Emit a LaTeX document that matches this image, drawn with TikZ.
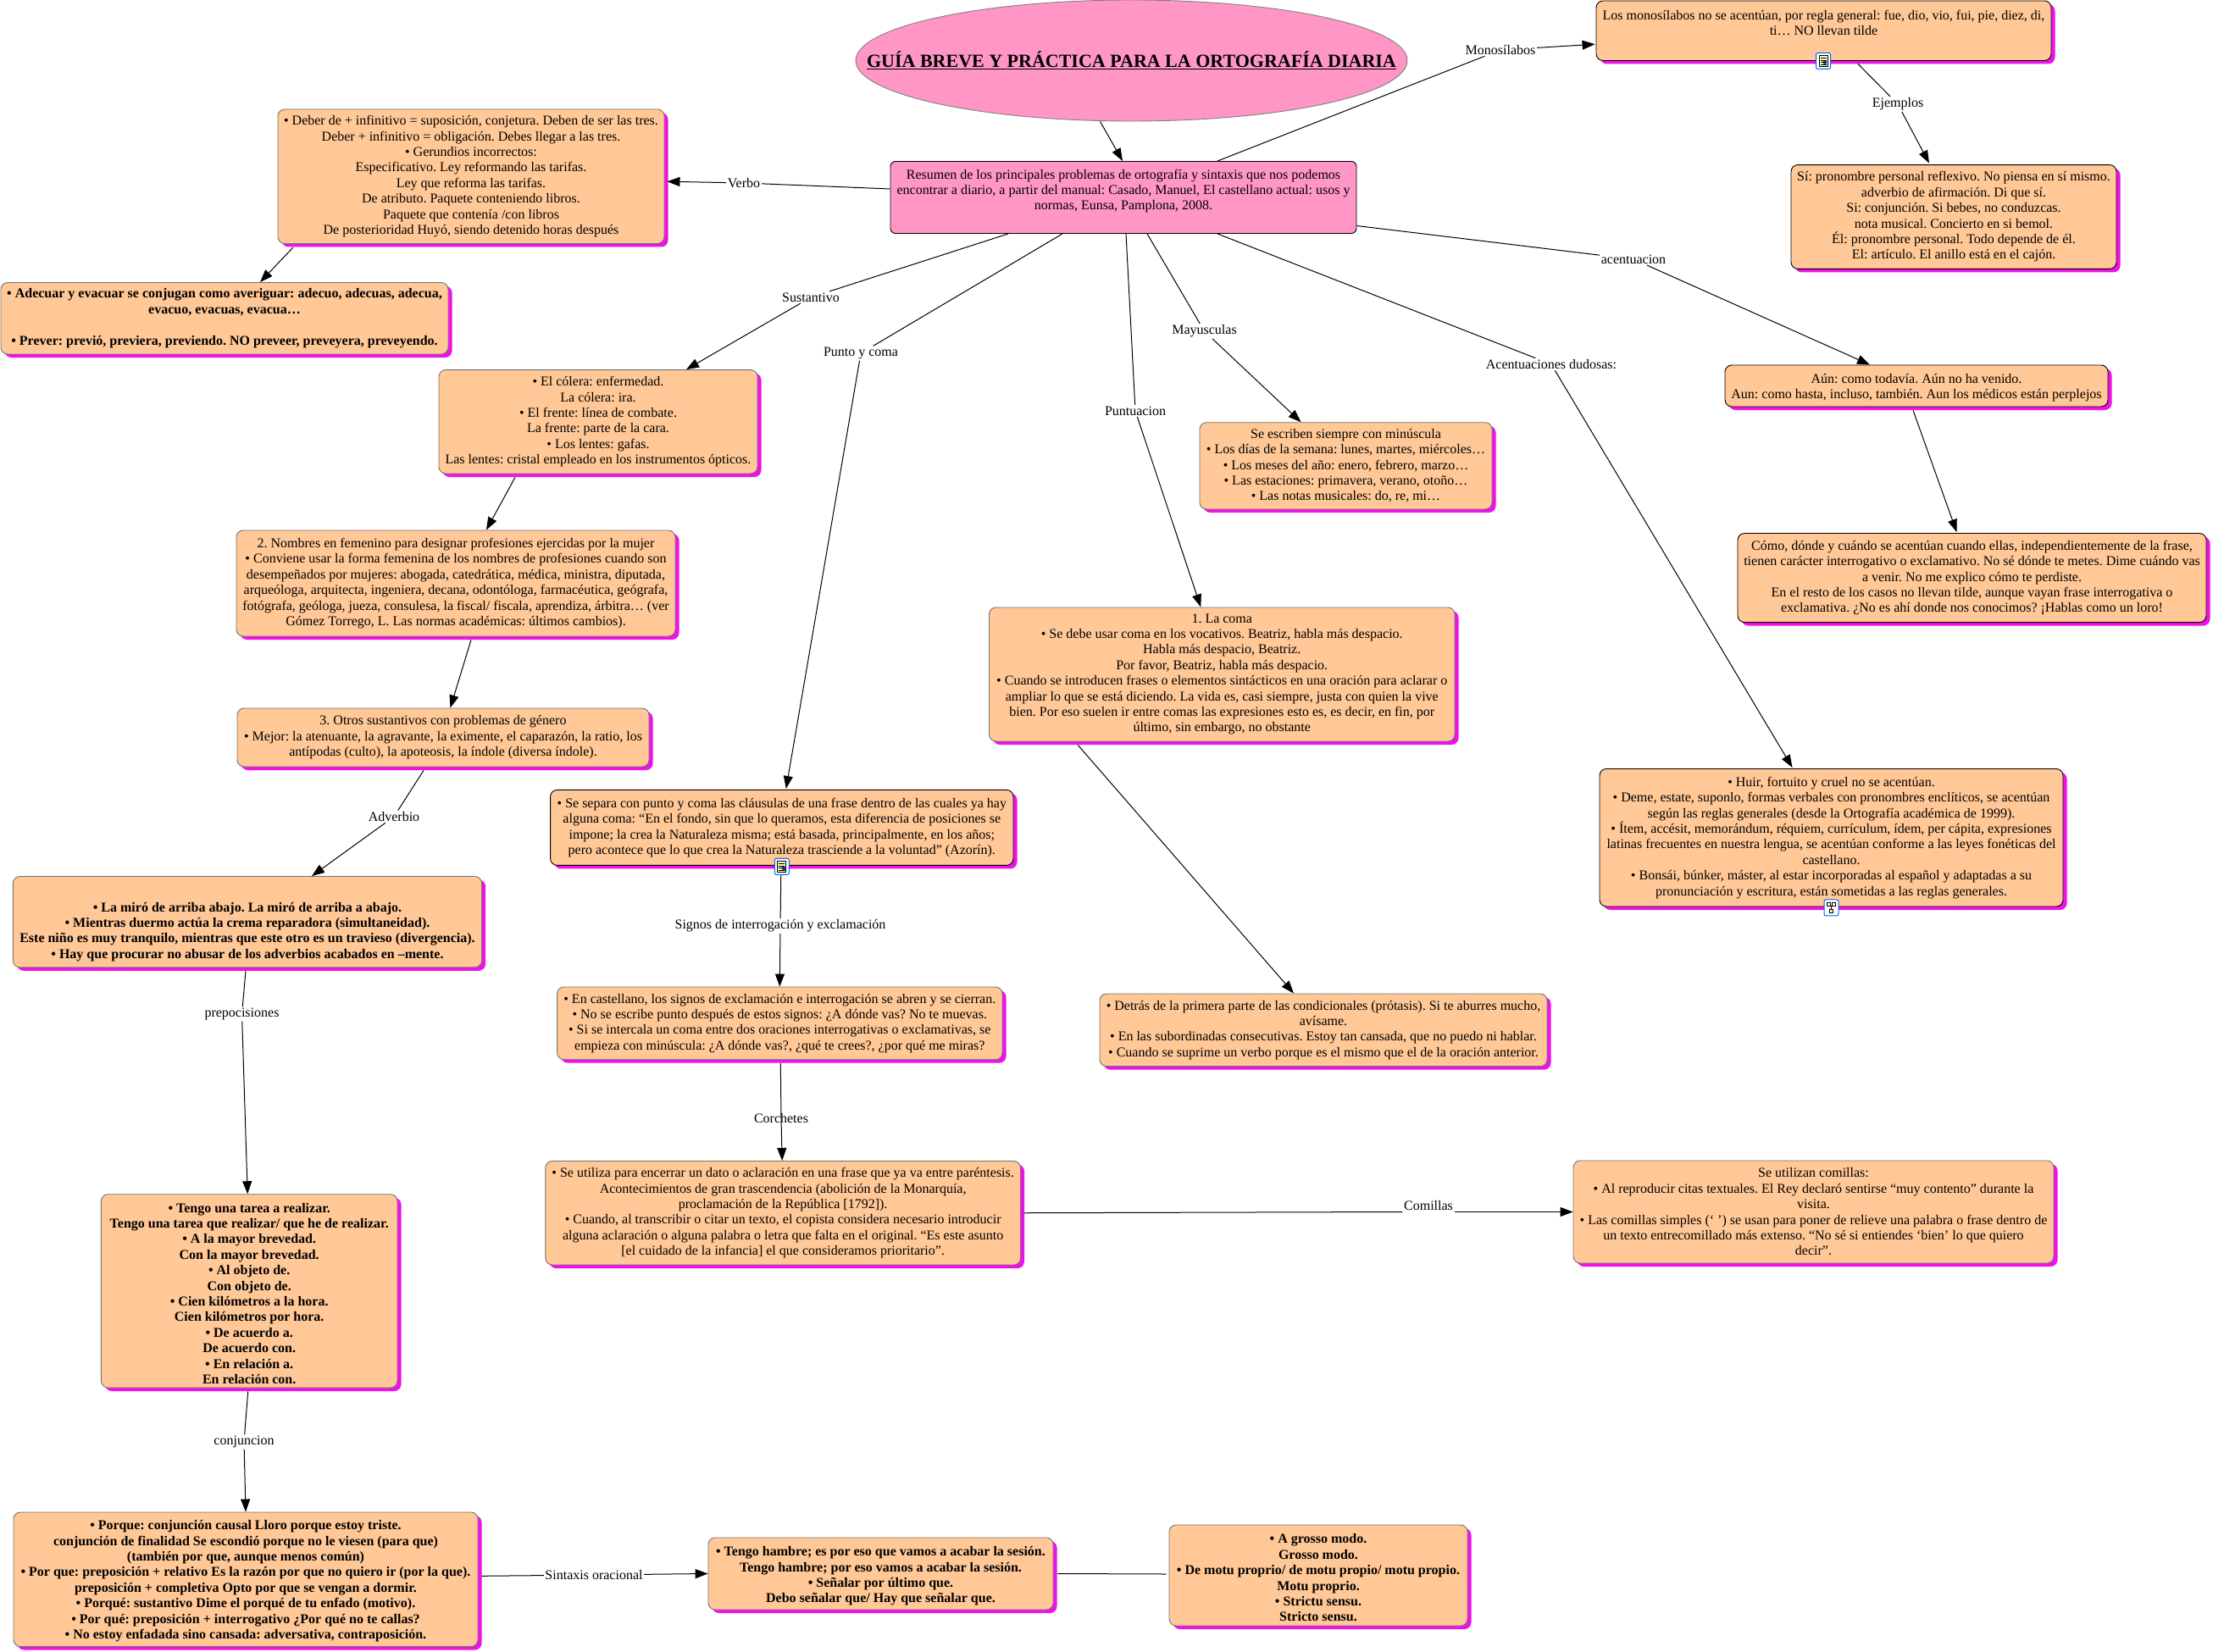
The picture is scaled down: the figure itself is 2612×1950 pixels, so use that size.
\documentclass[tikz,border=0pt]{standalone}
\usepackage{fontspec}
\setmainfont{Liberation Serif}
\usetikzlibrary{arrows.meta,shadows,shapes.geometric}
\definecolor{boxfill}{RGB}{255,200,150}
\definecolor{pinkfill}{RGB}{255,150,197}
\definecolor{shadowm}{RGB}{240,16,232}
\frenchspacing
\tikzset{
  x=1pt,y=-1pt,
  concept/.style={rectangle,rounded corners=8pt,fill=boxfill,draw=gray!90!black,line width=.9pt,inner sep=0pt,align=center,
    font=\fontsize{16}{18.4}\selectfont,text=black,
    general shadow={shadow xshift=4.5pt,shadow yshift=-4pt,fill=shadowm}},
  dark/.style={draw=black},
  bolder/.style={font=\fontsize{16}{18.4}\selectfont\bfseries},
  plain/.style={rectangle,rounded corners=6pt,fill=pinkfill,draw=black,line width=.9pt,inner sep=0pt,align=center,font=\fontsize{16}{18.4}\selectfont},
  titleshape/.style={ellipse,fill=pinkfill,draw=gray,line width=.9pt,inner xsep=-90pt,inner ysep=0pt,font=\fontsize{22}{26}\selectfont\bfseries},
  linklabel/.style={fill=white,inner sep=1.5pt,font=\fontsize{16}{18}\selectfont},
  conn/.style={draw=black,line width=1pt},
  arrowed/.style={conn,-{Triangle[length=15pt,width=11pt]}},
  iconbox/.style={rectangle,rounded corners=2pt,fill=white,draw=blue!60!cyan,line width=1pt,minimum width=17pt,minimum height=19pt,inner sep=0pt}
}
\newcommand{\conceptbox}[7][]{%
  \pgfmathsetmacro{\cbw}{#5-#3}\pgfmathsetmacro{\cbh}{#6-#4}%
  \node[concept,#1,minimum width=\cbw pt,minimum height=\cbh pt] (#2) at ({(#3+#5)/2},{(#4+#6)/2}) {#7};}
\newcommand{\docicon}[1]{%
  \fill[yellow!30] ([shift={(-5pt,-6pt)}]#1.center) rectangle ([shift={(5pt,7pt)}]#1.center);
  \draw[black,line width=.7pt] ([shift={(-5pt,-6pt)}]#1.center) rectangle ([shift={(5pt,7pt)}]#1.center);
  \fill[blue!50!gray] ([shift={(0pt,-5pt)}]#1.center) rectangle ([shift={(4pt,0pt)}]#1.center);
  \foreach \dy in {-4,-1.5,1,3.5}{\draw[black,line width=.6pt] ([shift={(-3.5pt,\dy pt)}]#1.center) -- ([shift={(3.5pt,\dy pt)}]#1.center);}
}
\begin{document}
\begin{tikzpicture}
\useasboundingbox (0,0) rectangle (2612,1950);

% title and hub
\node[titleshape,minimum width=651pt,minimum height=143pt] (tit) at (1335.5,71.5) {\underline{GUÍA BREVE Y PRÁCTICA PARA LA ORTOGRAFÍA DIARIA}};
\node[plain,minimum width=550pt,minimum height=85pt] (res) at (1326,233) {Resumen de los principales problemas de ortografía y sintaxis que nos podemos\\encontrar a diario, a partir del manual: Casado, Manuel, El castellano actual: usos y\\normas, Eunsa, Pamplona, 2008.\\\mbox{}};

% right column
\conceptbox[dark]{mono}{1884}{1}{2421}{71.5}{Los monosílabos no se acentúan, por regla general: fue, dio, vio, fui, pie, diez, di,\\ti… NO llevan tilde\\\mbox{}}
\conceptbox[dark]{si}{2114}{194.6}{2498}{317.4}{Sí: pronombre personal reflexivo. No piensa en sí mismo.\\adverbio de afirmación. Di que sí.\\Si: conjunción. Si bebes, no conduzcas.\\nota musical. Concierto en si bemol.\\Él: pronombre personal. Todo depende de él.\\El: artículo. El anillo está en el cajón.}
\conceptbox[dark]{aun}{2036}{431}{2488}{480}{\rule{0pt}{15pt}Aún: como todavía. Aún no ha venido.\\Aun: como hasta, incluso, también. Aun los médicos están perplejos}
\conceptbox[dark]{como}{2051}{629.5}{2604}{734.6}{Cómo, dónde y cuándo se acentúan cuando ellas, independientemente de la frase,\\tienen carácter interrogativo o exclamativo. No sé dónde te metes. Dime cuándo vas\\a venir. No me explico cómo te perdiste.\\En el resto de los casos no llevan tilde, aunque vayan frase interrogativa o\\exclamativa. ¿No es ahí donde nos conocimos? ¡Hablas como un loro!}
\conceptbox{esc}{1416}{498.7}{1761}{601}{Se escriben siempre con minúscula\\• Los días de la semana: lunes, martes, miércoles…\\• Los meses del año: enero, febrero, marzo…\\• Las estaciones: primavera, verano, otoño…\\• Las notas musicales: do, re, mi…}
\conceptbox{coma}{1167.5}{717}{1717}{875}{1. La coma\\• Se debe usar coma en los vocativos. Beatriz, habla más despacio.\\Habla más despacio, Beatriz.\\Por favor, Beatriz, habla más despacio.\\• Cuando se introducen frases o elementos sintácticos en una oración para aclarar o\\ampliar lo que se está diciendo. La vida es, casi siempre, justa con quien la vive\\bien. Por eso suelen ir entre comas las expresiones esto es, es decir, en fin, por\\último, sin embargo, no obstante}
\conceptbox[dark]{huir}{1888}{907.5}{2435}{1070}{• Huir, fortuito y cruel no se acentúan.\\• Deme, estate, suponlo, formas verbales con pronombres enclíticos, se acentúan\\según las reglas generales (desde la Ortografía académica de 1999).\\• Ítem, accésit, memorándum, réquiem, currículum, ídem, per cápita, expresiones\\latinas frecuentes en nuestra lengua, se acentúan conforme a las leyes fonéticas del\\castellano.\\• Bonsái, búnker, máster, al estar incorporadas al español y adaptadas a su\\pronunciación y escritura, están sometidas a las reglas generales.}
\conceptbox{detras}{1298}{1173}{1826}{1258.6}{• Detrás de la primera parte de las condicionales (prótasis). Si te aburres mucho,\\avísame.\\• En las subordinadas consecutivas. Estoy tan cansada, que no puedo ni hablar.\\• Cuando se suprime un verbo porque es el mismo que el de la oración anterior.}
\conceptbox{comi}{1857}{1370}{2424}{1491}{Se utilizan comillas:\\• Al reproducir citas textuales. El Rey declaró sentirse “muy contento” durante la\\visita.\\• Las comillas simples (‘ ’) se usan para poner de relieve una palabra o frase dentro de\\un texto entrecomillado más extenso. “No sé si entiendes ‘bien’ lo que quiero\\decir”.}

% left column
\conceptbox{verbo}{328}{129}{784}{287.5}{• Deber de + infinitivo = suposición, conjetura. Deben de ser las tres.\\Deber + infinitivo = obligación. Debes llegar a las tres.\\• Gerundios incorrectos:\\Especificativo. Ley reformando las tarifas.\\Ley que reforma las tarifas.\\De atributo. Paquete conteniendo libros.\\Paquete que contenía /con libros\\De posterioridad Huyó, siendo detenido horas después}
\conceptbox[bolder]{adec}{1}{333.5}{529}{418}{• Adecuar y evacuar se conjugan como averiguar: adecuo, adecuas, adecua,\\evacuo, evacuas, evacua…\\\mbox{}\\• Prever: previó, previera, previendo. NO preveer, preveyera, preveyendo.}
\conceptbox{cole}{518}{436.6}{894}{559}{• El cólera: enfermedad.\\La cólera: ira.\\• El frente: línea de combate.\\La frente: parte de la cara.\\• Los lentes: gafas.\\Las lentes: cristal empleado en los instrumentos ópticos.}
\conceptbox{nomb}{279}{626}{797}{751}{2. Nombres en femenino para designar profesiones ejercidas por la mujer\\• Conviene usar la forma femenina de los nombres de profesiones cuando son\\desempeñados por mujeres: abogada, catedrática, médica, ministra, diputada,\\arqueóloga, arquitecta, ingeniera, decana, odontóloga, farmacéutica, geógrafa,\\fotógrafa, geóloga, jueza, consulesa, la fiscal/ fiscala, aprendiza, árbitra… (ver\\Gómez Torrego, L. Las normas académicas: últimos cambios).}
\conceptbox{otros}{280}{836}{766}{905}{3. Otros sustantivos con problemas de género\\• Mejor: la atenuante, la agravante, la eximente, el caparazón, la ratio, los\\antípodas (culto), la apoteosis, la índole (diversa índole).}
\conceptbox[bolder]{adv}{15.4}{1034.5}{568.6}{1141.8}{\mbox{}\\[16pt]• La miró de arriba abajo. La miró de arriba a abajo.\\• Mientras duermo actúa la crema reparadora (simultaneidad).\\Este niño es muy tranquilo, mientras que este otro es un travieso (divergencia).\\• Hay que procurar no abusar de los adverbios acabados en –mente.}
\conceptbox[bolder]{tengo}{119.4}{1409.7}{469}{1638}{\rule{0pt}{17pt}• Tengo una tarea a realizar.\\Tengo una tarea que realizar/ que he de realizar.\\• A la mayor brevedad.\\Con la mayor brevedad.\\• Al objeto de.\\Con objeto de.\\• Cien kilómetros a la hora.\\Cien kilómetros por hora.\\• De acuerdo a.\\De acuerdo con.\\• En relación a.\\En relación con.}
\conceptbox[bolder]{porq}{16}{1785}{564}{1943.6}{\rule{0pt}{15pt}• Porque: conjunción causal Lloro porque estoy triste.\\conjunción de finalidad Se escondió porque no le viesen (para que)\\(también por que, aunque menos común)\\• Por que: preposición + relativo Es la razón por que no quiero ir (por la que).\\preposición + completiva Opto por que se vengan a dormir.\\• Porqué: sustantivo Dime el porqué de tu enfado (motivo).\\• Por qué: preposición + interrogativo ¿Por qué no te callas?\\• No estoy enfadada sino cansada: adversativa, contraposición.}
\conceptbox[bolder]{ham}{836}{1815}{1243}{1900}{\rule{0pt}{17pt}• Tengo hambre; es por eso que vamos a acabar la sesión.\\Tengo hambre; por eso vamos a acabar la sesión.\\• Señalar por último que.\\Debo señalar que/ Hay que señalar que.}
\conceptbox[bolder]{gros}{1380}{1800}{1732}{1919}{\rule{0pt}{17pt}• A grosso modo.\\Grosso modo.\\• De motu proprio/ de motu propio/ motu propio.\\Motu proprio.\\• Strictu sensu.\\Stricto sensu.}

% centre column
\conceptbox[dark]{punto}{649.6}{932.4}{1196}{1021.4}{• Se separa con punto y coma las cláusulas de una frase dentro de las cuales ya hay\\alguna coma: “En el fondo, sin que lo queramos, esta diferencia de posiciones se\\impone; la crea la Naturaleza misma; está basada, principalmente, en los años;\\pero acontece que lo que crea la Naturaleza trasciende a la voluntad” (Azorín).}
\conceptbox{cast}{657.6}{1165}{1183}{1250.7}{• En castellano, los signos de exclamación e interrogación se abren y se cierran.\\• No se escribe punto después de estos signos: ¿A dónde vas? No te muevas.\\• Si se intercala un coma entre dos oraciones interrogativas o exclamativas, se\\empieza con minúscula: ¿A dónde vas?, ¿qué te crees?, ¿por qué me miras?}
\conceptbox{util}{643.8}{1370.5}{1204.5}{1493}{• Se utiliza para encerrar un dato o aclaración en una frase que ya va entre paréntesis.\\Acontecimientos de gran trascendencia (abolición de la Monarquía,\\proclamación de la República [1792]).\\• Cuando, al transcribir o citar un texto, el copista considera necesario introducir\\alguna aclaración o alguna palabra o letra que falta en el original. “Es este asunto\\{[}el cuidado de la infancia] el que consideramos prioritario”.}

% link labels
\node[linklabel] (lMono) at (1771,59) {Monosílabos};
\node[linklabel] (lEj) at (2240,123) {Ejemplos};
\node[linklabel] (lAcen) at (1928,306) {acentuacion};
\node[linklabel] (lDud) at (1831,430) {Acentuaciones dudosas:};
\node[linklabel] (lMay) at (1421.5,391) {Mayusculas};
\node[linklabel] (lPun) at (1340,485) {Puntuacion};
\node[linklabel] (lPc) at (1016,417) {Punto y coma};
\node[linklabel] (lSus) at (957,351) {Sustantivo};
\node[linklabel] (lVer) at (878,216) {Verbo};
\node[linklabel] (lAdv) at (465,964) {Adverbio};
\node[linklabel] (lPrep) at (285.5,1197) {prepocisiones};
\node[linklabel] (lConj) at (288,1702) {conjuncion};
\node[linklabel] (lSint) at (701,1859) {Sintaxis oracional};
\node[linklabel] (lSig) at (921,1093) {Signos de interrogación y exclamación};
\node[linklabel] (lCor) at (922,1320) {Corchetes};
\node[linklabel,anchor=south] (lCom) at (1686,1430.5) {Comillas};

% connectors
\draw[arrowed] ([xshift=-37pt]tit.south) -- ([xshift=-1pt]res.north);
\draw[conn] ([xshift=111pt]res.north) -- (lMono);
\draw[arrowed] (lMono) -- ([xshift=-1pt,yshift=-16pt]mono.west);
\draw[conn] ([xshift=40.5pt,yshift=-3.5pt]mono.south) -- (lEj);
\draw[arrowed] (lEj) -- ([xshift=-29pt,yshift=1.5pt]si.north);
\draw[conn] ([yshift=-33.5pt]res.east) -- (lAcen);
\draw[arrowed] (lAcen) -- ([xshift=-55pt]aun.north);
\draw[arrowed] ([xshift=-4pt,yshift=-4pt]aun.south) -- ([xshift=-18pt,yshift=1pt]como.north);
\draw[conn] ([xshift=111pt]res.south) -- (lDud);
\draw[arrowed] (lDud) -- ([xshift=-46pt,yshift=1pt]huir.north);
\draw[conn] ([xshift=28pt]res.south) -- (lMay);
\draw[arrowed] (lMay) -- ([xshift=-53pt]esc.north);
\draw[conn] ([xshift=3pt]res.south) -- (lPun);
\draw[arrowed] (lPun) -- ([xshift=-25pt]coma.north);
\draw[arrowed] ([xshift=-170pt,yshift=-4pt]coma.south) -- ([xshift=-35pt]detras.north);
\draw[conn] ([xshift=-72pt]res.south) -- (lPc);
\draw[arrowed] (lPc) -- ([xshift=5pt,yshift=1pt]punto.north);
\draw[conn] ([xshift=-136pt]res.south) -- (lSus);
\draw[arrowed] (lSus) -- ([xshift=104pt]cole.north);
\draw[conn] ([yshift=10pt]res.west) -- (lVer);
\draw[arrowed] (lVer) -- ([xshift=3pt,yshift=-6pt]verbo.east);
\draw[arrowed] ([xshift=-210pt,yshift=-4pt]verbo.south) -- ([xshift=42pt]adec.north);
\draw[arrowed] ([xshift=-98pt,yshift=-4pt]cole.south) -- ([xshift=36pt]nomb.north);
\draw[arrowed] ([xshift=18pt,yshift=-4pt]nomb.south) -- ([xshift=8.5pt]otros.north);
\draw[conn] ([xshift=-23pt,yshift=-4pt]otros.south) -- (lAdv);
\draw[arrowed] (lAdv) -- ([xshift=76pt]adv.north);
\draw[conn] ([xshift=-2pt,yshift=-4pt]adv.south) -- (lPrep);
\draw[arrowed] (lPrep) -- ([xshift=-2pt]tengo.north);
\draw[conn] ([xshift=-1.5pt,yshift=-4pt]tengo.south) -- (lConj);
\draw[arrowed] (lConj) -- (porq.north);
\draw[conn] ([xshift=4pt,yshift=4pt]porq.east) -- (lSint);
\draw[arrowed] (lSint) -- (ham.west);
\draw[conn] ([xshift=5pt]ham.east) -- ([xshift=-3pt,yshift=1.5pt]gros.west);
\draw[conn] ([xshift=-1pt,yshift=-9pt]punto.south) -- (lSig);
\draw[arrowed] (lSig) -- (cast.north);
\draw[conn] ([xshift=1pt,yshift=-4pt]cast.south) -- (lCor.center);
\draw[arrowed] (lCor.center) -- ([xshift=-1pt]util.north);
\draw[conn] ([xshift=4pt]util.east) -- (lCom.south west);
\draw[arrowed] (lCom.south east) -- (comi.west);

% attachment icons
\node[iconbox] (icA) at ([xshift=-0.5pt]mono.south) {};
\docicon{icA}
\node[iconbox] (icB) at ([yshift=-1pt]punto.south) {};
\docicon{icB}
\node[iconbox] (icC) at ([yshift=-1pt]huir.south) {};
\fill[yellow!40] ([shift={(-2pt,-6pt)}]icC.center) rectangle ([shift={(2pt,-2pt)}]icC.center);
\draw[black,line width=.7pt] ([shift={(-2pt,-6pt)}]icC.center) rectangle ([shift={(2pt,-2pt)}]icC.center);
\draw[black,line width=.7pt] ([shift={(0pt,-2pt)}]icC.center) -- ([shift={(0pt,2pt)}]icC.center);
\draw[black,line width=.7pt] ([shift={(-5pt,2pt)}]icC.center) rectangle ([shift={(-1pt,6pt)}]icC.center);
\draw[black,line width=.7pt] ([shift={(1pt,2pt)}]icC.center) rectangle ([shift={(5pt,6pt)}]icC.center);
\end{tikzpicture}
\end{document}
